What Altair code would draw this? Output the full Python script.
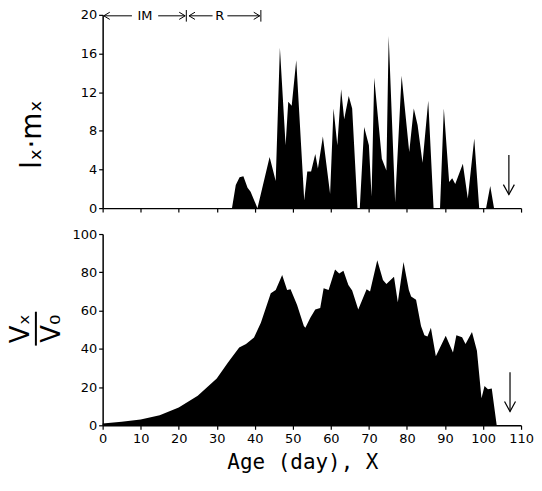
import altair as alt
import pandas as pd

# ---- data ----
top_day = [0, 34.0, 35.0, 36.0, 37.0, 38.1, 38.9, 40.7, 43.9, 45.5, 46.6, 48.1, 48.8, 49.7,
           50.9, 53.0, 53.8, 54.8, 55.9, 56.6, 57.9, 59.8, 60.7, 61.7, 62.7, 63.5, 64.7,
           65.6, 67.0, 67.6, 68.75, 70.0, 70.7, 71.4, 73.4, 74.6, 75.2, 76.9, 78.6, 80.6,
           81.8, 82.8, 84.1, 85.6, 87.0, 88.7, 89.7, 91.1, 91.9, 92.7, 94.7, 96.0, 97.7,
           99.0, 100.8, 101.9, 102.9, 110]
top_val = [0, 0, 2.4, 3.2, 3.3, 2.1, 1.7, 0, 5.3, 2.8, 16.6, 6.5, 11.0, 10.6,
           15.3, 0.8, 3.8, 3.8, 5.6, 4.1, 7.4, 1.5, 10.3, 6.5, 12.3, 9.2, 11.6,
           10.3, 0, 0, 8.4, 6.5, 1.2, 13.5, 5.1, 3.9, 17.8, 0.6, 13.7, 5.8,
           10.3, 8.6, 4.7, 11.1, 0, 0, 10.3, 2.7, 3.1, 2.5, 4.6, 1.0, 7.2,
           0, 0, 2.3, 0, 0]

bot_day = [0, 5, 10, 15, 20, 25, 30, 33, 35.9, 37.7, 39.8, 41.6, 44.2, 45.5, 47.2, 48.5,
           49.4, 51.1, 52.9, 53.3, 54.6, 55.9, 57.2, 58.1, 59.4, 61.1, 62.2, 63.3, 64.6,
           65.6, 67.2, 69.4, 70.3, 72.2, 73.7, 74.6, 76.6, 77.6, 79.1, 80.5, 81.1, 82.4,
           83.7, 84.6, 85.4, 86.3, 87.6, 90.2, 92.1, 93.0, 94.5, 95.4, 97.1, 98.4, 99.6,
           100.4, 101.3, 102.3, 103.6]
bot_val = [1.0, 1.8, 3.0, 5.2, 9.3, 15.5, 24.5, 33, 40.7, 42.5, 45.9, 53.6, 69.1, 70.8, 78.6, 70.8,
           71.1, 63, 51.9, 51, 56.2, 60.5, 61.3, 71.6, 70.8, 81.4, 79.4, 80.8, 73.4,
           70.5, 60.5, 71.1, 69.9, 86.3, 76, 73.9, 77.7, 64.3, 85.4, 70.8, 67.4, 65.7,
           51.9, 47.1, 46.4, 51, 36.1, 46.8, 38.1, 47.1, 46, 42.5, 48.8, 39, 14.1,
           20.5, 18.9, 19.3, 0]

x_ticks = list(range(0, 111, 10))
top_ticks = [0, 4, 8, 12, 16, 20]
bot_ticks = [0, 20, 40, 60, 80, 100]

# annotation (IM / R stages) in data units
seg_x1 = [0.3, 14.6, 22.7, 32.8]
seg_x2 = [7.7, 21.7, 28.9, 41.3]
stage_labels = ["IM", "R"]
stage_x = [11.1, 30.8]
stage_y = 19.9
bar_x = [22.0, 41.6]
left_heads = [0.3, 22.7]
right_heads = [21.7, 41.3]

top_arrow = {"day": 106.8, "from": 5.5, "to": 1.4}
bot_arrow = {"day": 107.1, "from": 27.8, "to": 7.2}

W, HT, HB = 420, 194, 192
FONT = "DejaVu Sans"

xscale = alt.Scale(domain=[0, 110], nice=False, zero=False)
ytop = alt.Scale(domain=[0, 20], nice=False)
ybot = alt.Scale(domain=[0, 100], nice=False)

axis_common = dict(domainColor="black", domainWidth=1.5, tickColor="black", tickWidth=1.2,
                   tickSize=4, labelColor="black", labelFont=FONT, labelFontSize=13,
                   grid=False, title=None, labelOverlap=False, labelFlush=False)

ax_x_top = alt.Axis(values=x_ticks, labels=False, **axis_common)
ax_y_top = alt.Axis(values=top_ticks, labelPadding=2, **axis_common)
ax_x_bot = alt.Axis(values=x_ticks, labelPadding=3, **axis_common)
ax_y_bot = alt.Axis(values=bot_ticks, labelPadding=2, **axis_common)


def X(field):
    return alt.X(field, scale=xscale, axis=ax_x_top)


def YT(field):
    return alt.Y(field, scale=ytop, axis=ax_y_top)


top_df = pd.DataFrame({"day": top_day, "val": top_val})
bot_df = pd.DataFrame({"day": bot_day, "val": bot_val})

top_area = alt.Chart(top_df).mark_area(color="black", interpolate="linear").encode(
    x=X("day:Q"), y=YT("val:Q"))

seg_df = pd.DataFrame({"x1": seg_x1, "x2": seg_x2, "y": [stage_y] * len(seg_x1)})
segs = alt.Chart(seg_df).mark_rule(color="black", strokeWidth=1).encode(
    x=X("x1:Q"), x2="x2:Q", y=YT("y:Q"))

bar_df = pd.DataFrame({"x": bar_x, "y1": [19.3] * 2, "y2": [20.5] * 2})
bars = alt.Chart(bar_df).mark_rule(color="black", strokeWidth=1).encode(
    x=X("x:Q"), y=YT("y1:Q"), y2="y2:Q")

lh_df = pd.DataFrame({"x": left_heads, "y": [stage_y] * 2})
rh_df = pd.DataFrame({"x": right_heads, "y": [stage_y] * 2})
lheads = alt.Chart(lh_df).mark_point(shape="M 1 -0.6 L 0 0 L 1 0.6", filled=False, size=144,
                                     color="black", strokeWidth=1, opacity=1).encode(
    x=X("x:Q"), y=YT("y:Q"))
rheads = alt.Chart(rh_df).mark_point(shape="M -1 -0.6 L 0 0 L -1 0.6", filled=False, size=144,
                                     color="black", strokeWidth=1, opacity=1).encode(
    x=X("x:Q"), y=YT("y:Q"))

lab_df = pd.DataFrame({"x": stage_x, "y": [stage_y] * 2, "t": stage_labels})
labs = alt.Chart(lab_df).mark_text(font=FONT, fontSize=13, color="black", baseline="middle").encode(
    x=X("x:Q"), y=YT("y:Q"), text="t:N")


def arrow(a, yscale, xaxis, yaxis):
    df = pd.DataFrame({"x": [a["day"]], "y1": [a["from"]], "y2": [a["to"]]})
    shaft = alt.Chart(df).mark_rule(color="black", strokeWidth=1.2).encode(
        x=alt.X("x:Q", scale=xscale, axis=xaxis), y=alt.Y("y1:Q", scale=yscale, axis=yaxis), y2="y2:Q")
    head = alt.Chart(df).mark_point(shape="M -0.55 -1 L 0 0 L 0.55 -1", filled=False, size=400,
                                    color="black", strokeWidth=1.2, opacity=1).encode(
        x=alt.X("x:Q", scale=xscale, axis=xaxis), y=alt.Y("y2:Q", scale=yscale, axis=yaxis))
    return shaft + head


top_title = alt.Chart(pd.DataFrame({"t": ["lₓ·mₓ"]})).mark_text(
    font=FONT, fontSize=28, angle=270, color="black", align="center", baseline="middle").encode(
    x=alt.value(-70), y=alt.value(120), text="t:N")

top = alt.layer(top_area, segs, bars, lheads, rheads, labs,
                arrow(top_arrow, ytop, ax_x_top, ax_y_top), top_title).properties(width=W, height=HT)

bot_area = alt.Chart(bot_df).mark_area(color="black", interpolate="linear").encode(
    x=alt.X("day:Q", scale=xscale, axis=ax_x_bot),
    y=alt.Y("val:Q", scale=ybot, axis=ax_y_bot),
)

vx = alt.Chart(pd.DataFrame({"t": ["Vₓ"]})).mark_text(
    font=FONT, fontSize=26, angle=270, color="black", align="center", baseline="middle").encode(
    x=alt.value(-82), y=alt.value(95), text="t:N")
v0 = alt.Chart(pd.DataFrame({"t": ["V₀"]})).mark_text(
    font=FONT, fontSize=26, angle=270, color="black", align="center", baseline="middle").encode(
    x=alt.value(-51), y=alt.value(95), text="t:N")
fbar = alt.Chart(pd.DataFrame({"a": [0]})).mark_rule(color="black", strokeWidth=2).encode(
    x=alt.value(-67), y=alt.value(78), y2=alt.value(112))
xtitle = alt.Chart(pd.DataFrame({"t": ["Age (day), X"]})).mark_text(
    font="DejaVu Sans Mono", fontSize=21, color="black", align="center", baseline="middle").encode(
    x=alt.value(201), y=alt.value(HB + 38), text="t:N")

bottom = alt.layer(bot_area, arrow(bot_arrow, ybot, ax_x_bot, ax_y_bot), vx, v0, fbar, xtitle).properties(
    width=W, height=HB)

chart = alt.vconcat(top, bottom, spacing=26, bounds="flush").properties(
    padding={"left": 0, "top": 0, "right": 0, "bottom": 0}, background="white"
).configure_view(stroke=None).configure_axis(
    labelOverlap=False, labelFlush=False
)

chart.save("out.html", embed_options={"renderer": "svg", "actions": False})
